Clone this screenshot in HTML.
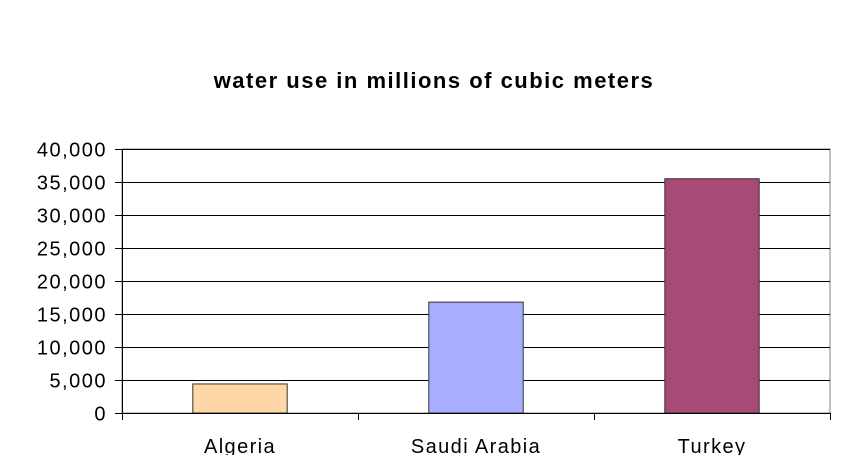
<!DOCTYPE html>
<html><head><meta charset="utf-8"><style>
body{margin:0;background:#fff;}
svg{display:block;font-family:"Liberation Sans",Arial,sans-serif;}
</style></head><body>
<svg id="chart" width="850" height="455" viewBox="0 0 850 455">
<text x="434" y="88" text-anchor="middle" font-size="22" font-weight="bold" letter-spacing="1.5" fill="#000">water use in millions of cubic meters</text>
<g id="grid"></g><g id="bars"></g><g id="axes"></g>
</svg>
<script>
const categories=["Algeria","Saudi Arabia","Turkey"];
const values=[4400,16800,35500];
const colors=["#ffd7a6","#a9adff","#a84a76"];
const yTicks=[0,5000,10000,15000,20000,25000,30000,35000,40000];
const yTickLabels=["0","5,000","10,000","15,000","20,000","25,000","30,000","35,000","40,000"];
const NS="http://www.w3.org/2000/svg";
const L=122,R=830,T=149,B=413,yMax=40000;
const y=v=>B-(v/yMax)*(B-T);
const band=(R-L)/categories.length;
const x=i=>L+band*i;
function mk(tag,attrs,parent){const e=document.createElementNS(NS,tag);for(const k in attrs)e.setAttribute(k,attrs[k]);document.getElementById(parent).appendChild(e);return e;}
let pb=mk('rect',{x:L,y:T,width:R-L,height:B-T,fill:'none',stroke:'#808080','stroke-width':1},'grid');


yTicks.forEach((t,i)=>{
 const yy=Math.round(y(t))+0.5;
 let g=mk('line',{x1:L,x2:R,y1:yy,y2:yy,stroke:'#000','stroke-width':1},'grid');
 
 
 let tk=mk('line',{x1:L-7,x2:L,y1:yy,y2:yy,stroke:'#000'},'axes');
 
 
 let tx=mk('text',{x:L-15,y:yy+7,'text-anchor':'end','font-size':20,'letter-spacing':1.5,fill:'#000'},'axes');
 tx.textContent=yTickLabels[i];
 
 
});
values.forEach((v,i)=>{
 const w=band*0.4, bx=x(i)+band/2-w/2;
 let b=mk('rect',{x:bx,y:y(v),width:w,height:B-y(v),fill:colors[i],stroke:'#333','stroke-width':1},'bars');
 
 
 let t=mk('text',{x:x(i)+band/2,y:453,'text-anchor':'middle','font-size':20,'letter-spacing':1.4,fill:'#000'},'axes');
 t.textContent=categories[i];
 
 
});
for(let i=0;i<=categories.length;i++){
 const xx=Math.round(x(i))+0.5;
 let tk=mk('line',{x1:xx,x2:xx,y1:B,y2:B+7,stroke:'#000'},'axes');
 
 
}
let ya=mk('line',{x1:L+0.5,x2:L+0.5,y1:T,y2:B+7,stroke:'#000'},'axes');


let xa=mk('line',{x1:L,x2:R,y1:B+0.5,y2:B+0.5,stroke:'#000'},'axes');


</script>
</body></html>
